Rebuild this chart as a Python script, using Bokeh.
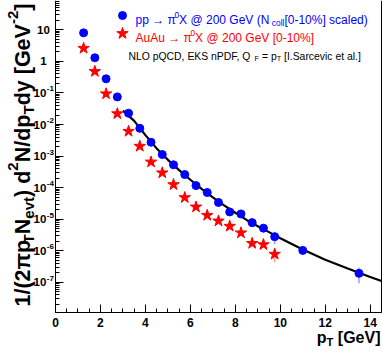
import math
from bokeh.plotting import figure
from bokeh.models import (Range1d, FixedTicker, SingleIntervalTicker, LogAxis, Label,
                          Legend, LegendItem, CustomJSTickFormatter, ColumnDataSource)
from bokeh.embed import file_html
from bokeh.resources import INLINE

# ---------------- data ----------------
pt_pp = [1.25, 1.75, 2.25, 2.75, 3.25, 3.75, 4.25, 4.75, 5.25, 5.75, 6.25, 6.75,
         7.25, 7.75, 8.25, 8.75, 9.25, 9.75, 11.0, 13.5]
yield_pp = [8.0, 1.3, 0.28, 0.075, 0.0228, 0.0076, 2.74e-3, 1.12e-3, 5.3e-4, 2.6e-4,
            1.16e-4, 7.0e-5, 3.4e-5, 1.7e-5, 1.47e-5, 7.8e-6, 5.2e-6, 2.8e-6, 1.03e-6, 1.93e-7]
err_pp = [0, 0, 0, 0, 0, 0, 0, 0, 0, 0, 0, 0, 0, 0, 0, 0, 0, 1.2e-6, 1.5e-7, 1.0e-7]

pt_auau = [1.25, 1.75, 2.25, 2.75, 3.25, 3.75, 4.25, 4.75, 5.25, 5.75, 6.25, 6.75,
           7.25, 7.75, 8.25, 8.75, 9.25, 9.75]
yield_auau = [2.6, 0.48, 0.094, 0.022, 0.0061, 0.00205, 6.5e-4, 2.95e-4, 1.25e-4, 4.85e-5,
              2.45e-5, 1.33e-5, 8.8e-6, 6.0e-6, 3.7e-6, 1.72e-6, 1.57e-6, 7.8e-7]
err_auau = [0, 0, 0, 0, 0, 0, 0, 0, 0, 0, 0, 0, 0, 0, 0, 3.0e-7, 3.0e-7, 3.5e-7]

nlo_pt = [3.0, 3.5, 4.0, 4.5, 5.0, 5.5, 6.0, 6.5, 7.0, 7.5, 8.0, 8.5, 9.0, 9.5, 10.0,
          11.0, 12.0, 13.0, 14.0, 14.5]
nlo_yield = [2.75e-2, 1.3e-2, 4.6e-3, 1.75e-3, 7.6e-4, 3.6e-4, 1.78e-4, 9.1e-5, 4.9e-5,
             2.75e-5, 1.6e-5, 9.5e-6, 6.0e-6, 3.9e-6, 2.5e-6, 1.1e-6, 5.2e-7, 2.75e-7,
             1.48e-7, 1.1e-7]

x_ticks = [0, 2, 4, 6, 8, 10, 12, 14]
y_exps = [1, 0, -1, -2, -3, -4, -5, -6, -7]

legend_pp = [("pp \u2192 \u03c0", "n"), ("0", "sup"), ("X @ 200 GeV (N", "n"), (2.5, "gap"),
             ("coll", "sub"), ("[0-10%] scaled)", "n")]
legend_auau = [("AuAu \u2192 \u03c0", "n"), ("0", "sup"), ("X @ 200 GeV [0-10%]", "n")]
legend_nlo = [("NLO pQCD, EKS nPDF, Q", "n"), (3.0, "gap"), ("F", "sub"),
              (" = p", "n"), ("T", "sub"), (" [I.Sarcevic et al.]", "n")]
x_title = [("p", "n"), ("T", "sub"), (" [GeV]", "n")]
y_title = [("1/(2\u03c0p", "n"), ("T", "sub"), ("N", "n"), ("evt", "sub"), (") d", "n"),
           ("2", "sup"), ("N/dp", "n"), ("T", "sub"), ("dy [GeV", "n"), ("-2", "sup"), ("]", "n")]

# ---------------- geometry / styling ----------------
FONT = "Liberation Sans"
W, H = 382, 358
FL, FB = 0, H               # frame covers the whole canvas
X0_PX, PX_PER_GEV = 55.0, 22.48      # window px of pT=0, px per GeV
Y10_PX, PX_PER_DEC = 29.3, 31.57     # window px of 10, px per decade
AXIS_BOTTOM_PX, AXIS_RIGHT_PT = 312.0, 14.5


def px_to_x(wx):
    return (wx - X0_PX) / PX_PER_GEV


def px_to_y(wy):
    return 10.0 ** (1.0 - (wy - Y10_PX) / PX_PER_DEC)


REG = {c: 556 for c in "0123456789"}
REG.update({" ": 278, "%": 889, "(": 333, ")": 333, ",": 278, "-": 333, ".": 278, "/": 278,
            "=": 584, "@": 1015, "[": 278, "]": 278, "\u03c0": 576, "\u2192": 1000})
REG.update(dict(zip("ABCDEFGHIJKLMNOPQRSTUVWXYZ",
                    [667, 667, 722, 722, 667, 611, 778, 722, 278, 500, 667, 556, 833, 722, 778,
                     667, 778, 722, 667, 611, 722, 667, 944, 667, 667, 611])))
REG.update(dict(zip("abcdefghijklmnopqrstuvwxyz",
                    [556, 556, 500, 556, 556, 278, 556, 556, 222, 222, 500, 222, 833, 556, 556,
                     556, 556, 333, 500, 278, 556, 500, 722, 500, 500, 500])))
BOLD = {c: 556 for c in "0123456789"}
BOLD.update({" ": 278, "%": 889, "(": 333, ")": 333, ",": 278, "-": 333, ".": 278, "/": 278,
             "=": 584, "@": 975, "[": 333, "]": 333, "\u03c0": 600, "\u2192": 1000})
BOLD.update(dict(zip("ABCDEFGHIJKLMNOPQRSTUVWXYZ",
                     [722, 722, 722, 722, 667, 611, 778, 722, 278, 556, 722, 611, 833, 722, 778,
                      667, 778, 722, 667, 611, 722, 667, 944, 667, 667, 611])))
BOLD.update(dict(zip("abcdefghijklmnopqrstuvwxyz",
                     [556, 611, 556, 611, 556, 333, 611, 611, 278, 278, 556, 278, 889, 611, 611,
                      611, 611, 389, 556, 333, 611, 556, 778, 556, 556, 500])))


def tw(s, size, bold):
    t = BOLD if bold else REG
    return sum(t.get(c, 556) for c in s) / 1000.0 * size


def piece_geom(kind, size):
    if kind == "sub":
        return size * 0.7, -0.28 * size
    if kind == "sup":
        return size * 0.7, 0.42 * size
    return size, 0.0


def rich_width(parts, size, bold):
    tot = 0.0
    for text, kind in parts:
        if kind == "gap":
            tot += text
            continue
        s, _ = piece_geom(kind, size)
        tot += tw(text, s, bold)
    return tot


def rich(p, parts, wx, wy, size, color, bold=False, vertical=False, align="left"):
    pos = -rich_width(parts, size, bold) if align == "right" else 0.0
    for text, kind in parts:
        if kind == "gap":
            pos += text
            continue
        s, shift = piece_geom(kind, size)
        # SVG drops leading / trailing blanks: turn them into explicit advances
        lead = len(text) - len(text.lstrip(" "))
        trail = len(text) - len(text.rstrip(" "))
        core = text.strip(" ")
        pos += tw(" " * lead, s, bold)
        if vertical:
            x, y = wx - shift, wy - pos
        else:
            x, y = wx + pos, wy - shift
        p.add_layout(Label(x=x - FL, y=FB - y, x_units="screen", y_units="screen", text=core,
                           text_font=FONT, text_font_size=f"{s:.2f}px",
                           text_font_style="bold" if bold else "normal", text_color=color,
                           text_align="left", text_baseline="alphabetic",
                           angle=math.pi / 2 if vertical else 0.0))
        pos += tw(core, s, bold) + tw(" " * trail, s, bold)


# ---------------- figure ----------------
y_lo, y_hi = px_to_y(H), px_to_y(0)
y_axis_lo = px_to_y(AXIS_BOTTOM_PX)
p = figure(width=W, height=H, y_axis_type="log", output_backend="svg", toolbar_location=None,
           x_range=Range1d(px_to_x(0), px_to_x(W)), y_range=Range1d(y_lo, y_hi),
           min_border=0, min_border_left=0, min_border_right=0, min_border_top=0,
           min_border_bottom=0)
p.outline_line_color = None
p.background_fill_color = "white"
p.border_fill_color = "white"
p.xgrid.visible = False
p.ygrid.visible = False

xa = p.xaxis[0]
xa.ticker = SingleIntervalTicker(interval=2, num_minor_ticks=4)
xa.fixed_location = y_axis_lo
xa.bounds = (0, AXIS_RIGHT_PT)
xa.formatter = CustomJSTickFormatter(code="return ''")
xa.major_tick_in, xa.major_tick_out = 8, 0
xa.minor_tick_in, xa.minor_tick_out = 4, 0
xa.major_label_standoff = 0
xa.axis_line_color = "black"

ya = p.yaxis[0]
ya.ticker = FixedTicker(ticks=[10.0 ** k for k in y_exps],
                        minor_ticks=[m * 10.0 ** k for k in range(-8, 2) for m in range(2, 10)])
ya.fixed_location = 0
ya.bounds = (y_axis_lo, y_hi * 0.999)
ya.formatter = CustomJSTickFormatter(code="return ''")
ya.major_tick_in, ya.major_tick_out = 8, 0
ya.minor_tick_in, ya.minor_tick_out = 4, 0
ya.major_label_standoff = 0
ya.axis_line_color = "black"

right = LogAxis(ticker=FixedTicker(ticks=[]), formatter=CustomJSTickFormatter(code="return ''"),
                fixed_location=AXIS_RIGHT_PT, bounds=(y_axis_lo, y_hi * 0.999),
                major_tick_in=0, major_tick_out=0, minor_tick_in=0, minor_tick_out=0,
                major_label_standoff=0, axis_line_color="black")
p.add_layout(right, "right")


# error bars
def bars(xs, ys, es):
    x0, lo, hi = [], [], []
    for x, y, e in zip(xs, ys, es):
        if e > 0:
            x0.append(x); lo.append(y - e); hi.append(y + e)
    return ColumnDataSource(dict(x=x0, lo=lo, hi=hi))


p.segment(x0="x", y0="lo", x1="x", y1="hi", source=bars(pt_pp, yield_pp, err_pp),
          line_color="#9a9aff", line_width=1.5)
p.segment(x0="x", y0="lo", x1="x", y1="hi", source=bars(pt_auau, yield_auau, err_auau),
          line_color="#ffa0a0", line_width=1.5)

r_nlo_line = p.line(nlo_pt, nlo_yield, line_color="black", line_width=2.2)
r_pp = p.scatter(pt_pp, yield_pp, marker="circle", size=8, fill_color="#0000ff",
                 line_color="#0000ff")
r_auau = p.scatter(pt_auau, yield_auau, marker="star", size=12, fill_color="#ff0000",
                   line_color="#ff0000")
r_nlo_key = p.scatter(x=[], y=[], marker="square", size=6, fill_color="black", line_color="black")


def key(renderer, cx, cy, box):
    lg = Legend(items=[LegendItem(label=" ", renderers=[renderer])],
                location=(cx - box / 2 - FL, FB - (cy + box / 2)),
                glyph_width=box, glyph_height=box, label_height=box, label_width=0,
                label_standoff=0, label_text_font_size="1px", padding=0, margin=0, spacing=0,
                border_line_color=None, background_fill_alpha=0)
    p.add_layout(lg)


key(r_pp, 122, 15, 20)
key(r_auau, 122, 33.3, 30)
key(r_nlo_key, 122, 51.7, 13)

rich(p, legend_pp, 135, 19.5, 12, "#0000ff")
rich(p, legend_auau, 135, 37.8, 12, "#ff0000")
rich(p, legend_nlo, 128, 55.5, 10.4, "black")

# y tick labels
for k in y_exps:
    base = "1" if k == 0 else "10"
    ex = "" if k in (0, 1) else str(k)
    wbase = tw(base, 11.5, True)
    wexp = tw(ex, 8, True)
    x0 = 43 - (wbase + wexp) / 2 - FL
    p.add_layout(Label(x=x0, y=10.0 ** k, x_units="screen", y_units="data", text=base,
                       text_font=FONT, text_font_size="11.5px", text_font_style="bold",
                       text_align="left", text_baseline="middle", text_color="black"))
    if ex:
        p.add_layout(Label(x=x0 + wbase + 0.5, y=10.0 ** k, y_offset=4, x_units="screen",
                           y_units="data", text=ex, text_font=FONT,
                           text_font_size="8px", text_font_style="bold", text_align="left",
                           text_baseline="middle", text_color="black"))

# x tick labels
for t in x_ticks:
    p.add_layout(Label(x=t, y=FB - 321.7, x_units="data", y_units="screen", text=str(t),
                       text_font=FONT, text_font_size="12px", text_font_style="bold",
                       text_align="center", text_baseline="middle", text_color="black"))

# axis titles
rich(p, x_title, 380, 337, 16, "black", bold=True, align="right")
rich(p, y_title, 22, 306, 21.5, "black", bold=True, vertical=True)

open("out.html", "w").write(file_html(p, INLINE))
